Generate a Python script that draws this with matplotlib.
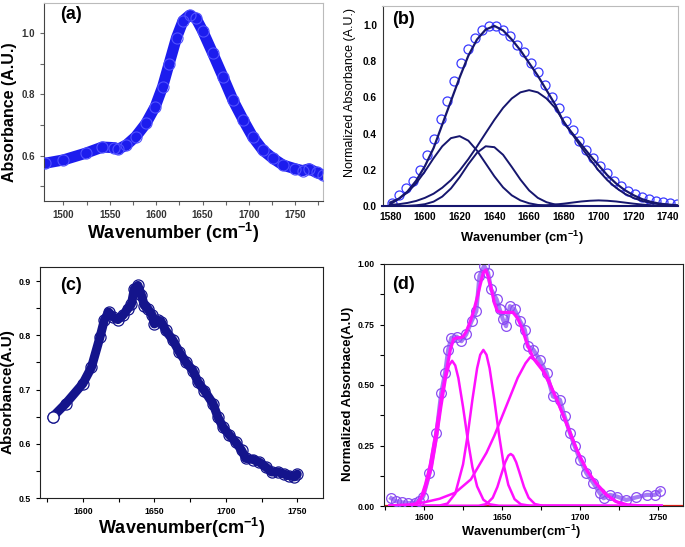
import matplotlib
matplotlib.use("Agg")
import matplotlib.pyplot as plt
from matplotlib.ticker import MultipleLocator, FormatStrFormatter

plt.rcParams["font.family"] = ["Liberation Sans", "DejaVu Sans"]
plt.rcParams["mathtext.fontset"] = "custom"
plt.rcParams["mathtext.rm"] = "Liberation Sans:bold"
plt.rcParams["mathtext.it"] = "Liberation Sans:bold"
plt.rcParams["mathtext.bf"] = "Liberation Sans:bold"

# ---- (a) raw FTIR amide I band ----
a_wn = [1480, 1500, 1524, 1542, 1555, 1559, 1568, 1578, 1589, 1599, 1607, 1614,
        1622, 1629, 1636, 1643, 1650, 1661, 1672, 1683, 1694, 1704, 1715, 1726,
        1737, 1750, 1758, 1765, 1773, 1780]
a_abs = [0.575, 0.586, 0.608, 0.628, 0.626, 0.621, 0.635, 0.662, 0.705, 0.760,
         0.825, 0.900, 0.985, 1.040, 1.058, 1.048, 1.008, 0.934, 0.858, 0.780,
         0.716, 0.662, 0.618, 0.591, 0.569, 0.557, 0.551, 0.557, 0.545, 0.537]

# ---- (b) normalized data + fitted components ----
b_wn = [1581, 1585, 1589, 1593, 1597, 1601, 1605, 1609, 1613, 1617, 1621, 1625,
        1629, 1633, 1637, 1641, 1645, 1649, 1653, 1657, 1661, 1665, 1669, 1673,
        1677, 1681, 1685, 1689, 1693, 1697, 1701, 1705, 1709, 1713, 1717, 1721,
        1725, 1729, 1733, 1737, 1741, 1745]
b_norm = [0.015, 0.06, 0.10, 0.14, 0.20, 0.28, 0.37, 0.48, 0.58, 0.69, 0.79, 0.87,
          0.93, 0.97, 0.995, 0.995, 0.97, 0.94, 0.89, 0.85, 0.79, 0.74, 0.67, 0.60,
          0.54, 0.47, 0.42, 0.36, 0.31, 0.265, 0.22, 0.18, 0.14, 0.11, 0.085, 0.065,
          0.05, 0.038, 0.028, 0.02, 0.014, 0.01]
b_fit_wn = [1580, 1585, 1590, 1595, 1600, 1605, 1610, 1615, 1620, 1625, 1630, 1635,
            1640, 1645, 1650, 1655, 1660, 1665, 1670, 1675, 1680, 1685, 1690, 1695,
            1700, 1705, 1710, 1715, 1720, 1725, 1730, 1735, 1740, 1745]
b_env = [0.01, 0.04, 0.08, 0.14, 0.22, 0.32, 0.45, 0.58, 0.71, 0.83, 0.92, 0.975,
         0.995, 0.97, 0.92, 0.86, 0.79, 0.72, 0.64, 0.56, 0.46, 0.40, 0.34, 0.28,
         0.225, 0.17, 0.125, 0.088, 0.06, 0.038, 0.023, 0.013, 0.008, 0.004]
b_c1 = [0.020, 0.040, 0.075, 0.126, 0.191, 0.264, 0.330, 0.375, 0.386, 0.361, 0.306,
        0.235, 0.164, 0.103, 0.059, 0.031, 0.015, 0.006, 0.002, 0, 0, 0, 0, 0, 0,
        0, 0, 0, 0, 0, 0, 0, 0, 0]
b_c2 = [0, 0, 0.001, 0.004, 0.010, 0.024, 0.052, 0.097, 0.159, 0.231, 0.294, 0.330,
        0.325, 0.283, 0.216, 0.146, 0.086, 0.045, 0.021, 0.008, 0.003, 0.001, 0, 0,
        0, 0, 0, 0, 0, 0, 0, 0, 0, 0]
b_c3 = [0.006, 0.010, 0.017, 0.028, 0.045, 0.068, 0.101, 0.143, 0.196, 0.259, 0.329,
        0.403, 0.476, 0.542, 0.594, 0.628, 0.640, 0.628, 0.594, 0.542, 0.466, 0.395,
        0.325, 0.259, 0.196, 0.143, 0.101, 0.068, 0.045, 0.028, 0.017, 0.010, 0.006,
        0.003]
b_c4 = [0, 0, 0, 0, 0, 0, 0, 0, 0, 0, 0, 0, 0, 0, 0, 0, 0.001, 0.002, 0.004, 0.008,
        0.013, 0.019, 0.025, 0.029, 0.031, 0.029, 0.025, 0.019, 0.013, 0.008, 0.004,
        0.002, 0.001, 0]

# ---- (c) second raw spectrum ----
c_wn = [1579, 1588, 1600, 1606, 1612, 1615, 1618, 1621, 1624.5, 1628, 1631.5, 1634,
        1636, 1638.5, 1641, 1643, 1645.5, 1648.5, 1650, 1652.5, 1655, 1658, 1663,
        1667.5, 1672, 1677, 1680.5, 1685, 1691, 1694.5, 1698, 1702.5, 1707, 1711,
        1714, 1719, 1723.5, 1728, 1732, 1736.5, 1741, 1744.5, 1748, 1750]
c_abs = [0.650, 0.674, 0.711, 0.741, 0.797, 0.828, 0.843, 0.834, 0.829, 0.837, 0.849,
         0.858, 0.886, 0.892, 0.874, 0.855, 0.849, 0.837, 0.821, 0.828, 0.824, 0.809,
         0.791, 0.769, 0.751, 0.735, 0.714, 0.698, 0.674, 0.649, 0.631, 0.616, 0.603,
         0.588, 0.573, 0.571, 0.566, 0.557, 0.548, 0.548, 0.544, 0.541, 0.539, 0.544]

# ---- (d) normalized data + fitted components ----
d_wn = [1579, 1582, 1586, 1590, 1594, 1597, 1599.5, 1603.5, 1608, 1611, 1613.5,
        1615.5, 1617.5, 1621, 1624, 1627, 1630.5, 1633.5, 1635.5, 1638.5, 1641, 1643,
        1646.5, 1648.5, 1650.5, 1652.5, 1655, 1658, 1661.5, 1664.5, 1666.5, 1670,
        1674, 1678.5, 1682.5, 1687, 1690, 1693.5, 1696.5, 1700, 1704, 1708.5, 1712.5,
        1715, 1719, 1723.5, 1729.5, 1736, 1742.5, 1748, 1751]
d_norm = [0.032, 0.020, 0.015, 0.012, 0.014, 0.022, 0.039, 0.135, 0.300, 0.467, 0.550,
          0.646, 0.695, 0.700, 0.681, 0.709, 0.764, 0.805, 0.950, 0.992, 0.964, 0.895,
          0.854, 0.812, 0.771, 0.743, 0.826, 0.812, 0.764, 0.729, 0.660, 0.646, 0.605,
          0.550, 0.453, 0.439, 0.370, 0.300, 0.246, 0.190, 0.135, 0.094, 0.053, 0.032,
          0.046, 0.039, 0.025, 0.036, 0.046, 0.046, 0.063]
d_env_wn = [1578, 1590, 1595, 1598, 1601, 1604, 1607, 1610, 1612, 1614.5, 1617, 1619,
            1621, 1623, 1625, 1627, 1629.5, 1632, 1634, 1636, 1638, 1639.5, 1641, 1643,
            1645, 1647, 1650, 1654, 1657, 1660, 1663, 1666, 1670, 1676, 1680, 1685,
            1691, 1698, 1704, 1710, 1717, 1723, 1730, 1740, 1752]
d_env = [0.0, 0.002, 0.006, 0.03, 0.09, 0.17, 0.28, 0.40, 0.48, 0.565, 0.65, 0.69,
         0.695, 0.695, 0.70, 0.72, 0.76, 0.81, 0.86, 0.915, 0.965, 0.975, 0.95, 0.90,
         0.84, 0.805, 0.80, 0.80, 0.80, 0.775, 0.73, 0.67, 0.61, 0.56, 0.51, 0.44,
         0.345, 0.23, 0.15, 0.095, 0.046, 0.018, 0.005, 0.0, 0.0]
d1_wn = [1578, 1590, 1595, 1600, 1605, 1608, 1611, 1614, 1616, 1618, 1620, 1622, 1625,
         1628, 1631, 1634, 1638, 1642, 1648, 1752]
d1 = [0, 0.001, 0.010, 0.048, 0.160, 0.275, 0.409, 0.529, 0.581, 0.600, 0.581, 0.529,
      0.409, 0.275, 0.160, 0.081, 0.026, 0.007, 0.001, 0]
d2_wn = [1578, 1610, 1615, 1620, 1625, 1628, 1631, 1634, 1636, 1638, 1640, 1642, 1645,
         1648, 1651, 1654, 1658, 1662, 1668, 1752]
d2 = [0, 0.002, 0.010, 0.051, 0.172, 0.295, 0.440, 0.569, 0.625, 0.645, 0.625, 0.569,
      0.440, 0.295, 0.172, 0.087, 0.028, 0.007, 0.001, 0]
d3_wn = [1578, 1635, 1640, 1644, 1647, 1650, 1652, 1654, 1655.5, 1657, 1659, 1661,
         1664, 1667, 1671, 1676, 1752]
d3 = [0, 0.001, 0.008, 0.034, 0.079, 0.141, 0.181, 0.208, 0.215, 0.208, 0.181, 0.141,
      0.079, 0.034, 0.008, 0.001, 0]
d4_wn = [1578, 1590, 1600, 1610, 1620, 1630, 1640, 1645, 1650, 1655, 1660, 1665, 1668,
         1672, 1676, 1680, 1685, 1690, 1695, 1700, 1705, 1710, 1715, 1720, 1725, 1730,
         1740, 1752]
d4 = [0.002, 0.006, 0.015, 0.03, 0.055, 0.11, 0.22, 0.29, 0.37, 0.45, 0.53, 0.59,
      0.615, 0.60, 0.565, 0.52, 0.44, 0.36, 0.275, 0.20, 0.14, 0.095, 0.055, 0.03,
      0.012, 0.004, 0.0, 0.0]

W, H = 685, 547
fig = plt.figure(figsize=(W / 100, H / 100), dpi=100)


def box(l, t, r, b):
    return [l / W, 1 - b / H, (r - l) / W, (b - t) / H]


def bold_ticks(ax, size):
    for lab in ax.get_xticklabels() + ax.get_yticklabels():
        lab.set_fontweight("bold")
        lab.set_fontsize(size)


def place_labels(ax, xl, yl):
    ax.xaxis.set_label_coords(*xl)
    ax.xaxis.label.set_verticalalignment("center")
    ax.yaxis.set_label_coords(*yl)
    ax.yaxis.label.set_verticalalignment("center")


# ---------------- (a) ----------------
ax = fig.add_axes(box(44, 3, 323, 201))
blue = "#1c1cee"
ax.plot(a_wn, a_abs, "-", color=blue, lw=8, solid_capstyle="round", zorder=2)
ax.plot(a_wn, a_abs, "o", ms=8, mfc="none", mec="#5050ff", mew=0.8, zorder=3)
ax.set_xlim(1479, 1780)
ax.set_ylim(0.452, 1.098)
ax.xaxis.set_major_locator(MultipleLocator(50))
ax.xaxis.set_minor_locator(MultipleLocator(25))
ax.yaxis.set_major_locator(MultipleLocator(0.2))
ax.yaxis.set_minor_locator(MultipleLocator(0.1))
ax.tick_params(which="both", direction="out", length=3, width=0.8, color="#666666",
               labelcolor="#333333")
for s in ["left", "bottom"]:
    ax.spines[s].set_color("#444444")
for s in ["top", "right"]:
    ax.spines[s].set_color("#bbbbbb")
bold_ticks(ax, 7)
ax.set_xlabel("Wavenumber (cm$^{-1}$)", fontsize=13, fontweight="bold")
ax.set_ylabel("Absorbance (A.U.)", fontsize=11.5, fontweight="bold")
place_labels(ax, (0.462, -0.162), (-0.122, 0.451))
ax.text(0.057, 0.94, "(a)", transform=ax.transAxes, fontsize=13, fontweight="bold",
        va="center", ha="left")

# ---------------- (b) ----------------
ax = fig.add_axes(box(382.5, 6, 678, 206))
navy = "#16166e"
ax.plot(b_wn, b_norm, "o", ms=6.5, mfc="none", mec="#3a3aff", mew=0.9, zorder=2)
for comp in (b_c1, b_c2, b_c3, b_c4):
    ax.plot(b_fit_wn, comp, "-", color=navy, lw=1.4, zorder=3)
ax.plot(b_fit_wn, b_env, "-", color=navy, lw=1.6, zorder=4)
ax.set_xlim(1575.6, 1745.7)
ax.set_ylim(0, 1.105)
ax.xaxis.set_major_locator(MultipleLocator(20))
ax.yaxis.set_major_locator(MultipleLocator(0.2))
ax.tick_params(which="both", length=0, pad=4)
ax.spines["left"].set_color("#333333")
ax.spines["bottom"].set_color(navy)
ax.spines["bottom"].set_linewidth(1.5)
for s in ["top", "right"]:
    ax.spines[s].set_color("#bbbbbb")
bold_ticks(ax, 7.3)
ax.set_xlabel("Wavenumber (cm$^{-1}$)", fontsize=9.3, fontweight="bold")
ax.set_ylabel("Normalized Absorbance (A.U.)", fontsize=9)
place_labels(ax, (0.471, -0.16), (-0.11, 0.5675))
ax.text(0.032, 0.93, "(b)", transform=ax.transAxes, fontsize=13, fontweight="bold",
        va="center", ha="left")

# ---------------- (c) ----------------
ax = fig.add_axes(box(40, 267, 323, 498))
dnavy = "#14148c"
ax.plot(c_wn, c_abs, "-", color=dnavy, lw=6.5, solid_capstyle="round", zorder=2)
ax.plot(c_wn, c_abs, "o", ms=8, mfc="none", mec=dnavy, mew=0.9, zorder=3)
ax.plot(c_wn[:1], c_abs[:1], "o", ms=8, mfc="white", mec=dnavy, mew=0.9, zorder=4)
ax.set_xlim(1570, 1768)
ax.set_ylim(0.5, 0.926)
ax.xaxis.set_major_locator(MultipleLocator(50))
ax.xaxis.set_minor_locator(MultipleLocator(25))
ax.yaxis.set_major_locator(MultipleLocator(0.1))
ax.yaxis.set_minor_locator(MultipleLocator(0.05))
ax.tick_params(which="both", direction="out", length=3, width=0.8)
for s in ax.spines.values():
    s.set_color("#222222")
bold_ticks(ax, 6.3)
ax.set_xlabel("Wavenumber(cm$^{-1}$)", fontsize=13, fontweight="bold")
ax.set_ylabel("Absorbance(A.U)", fontsize=11, fontweight="bold")
place_labels(ax, (0.5, -0.13), (-0.113, 0.46))
ax.text(0.071, 0.918, "(c)", transform=ax.transAxes, fontsize=13, fontweight="bold",
        va="center", ha="left")

# ---------------- (d) ----------------
ax = fig.add_axes(box(384, 264, 683, 506))
purple = "#8a4cf2"
magenta = "#ff10ff"
ax.axhline(0, color="#e0201a", lw=1.6, zorder=1)
ax.plot(d_wn, d_norm, "-", color="#a57cf5", lw=3, zorder=2)
ax.plot(d_wn, d_norm, "o", ms=7, mfc="none", mec=purple, mew=0.9, zorder=3)
for xs, ys in ((d1_wn, d1), (d2_wn, d2), (d3_wn, d3), (d4_wn, d4)):
    ax.plot(xs, ys, "-", color=magenta, lw=1.8, zorder=4)
ax.plot(d_env_wn, d_env, "-", color=magenta, lw=2.3, zorder=5)
ax.set_xlim(1574.4, 1765.8)
ax.set_ylim(0, 1.0)
ax.xaxis.set_major_locator(MultipleLocator(50))
ax.xaxis.set_minor_locator(MultipleLocator(25))
ax.yaxis.set_major_locator(MultipleLocator(0.25))
ax.yaxis.set_minor_locator(MultipleLocator(0.125))
ax.tick_params(which="both", direction="out", length=3, width=0.8)
ax.tick_params(axis="x", pad=2)
for s in ax.spines.values():
    s.set_color("#222222")
ax.yaxis.set_major_formatter(FormatStrFormatter("%.2f"))
bold_ticks(ax, 6.2)
ax.set_xlabel("Wavenumber(cm$^{-1}$)", fontsize=9.3, fontweight="bold")
ax.set_ylabel("Normalized Absorbace(A.U)", fontsize=9.5, fontweight="bold")
place_labels(ax, (0.46, -0.108), (-0.12, 0.463))
ax.text(0.027, 0.917, "(d)", transform=ax.transAxes, fontsize=13, fontweight="bold",
        va="center", ha="left")

fig.savefig("out.png", dpi=100)
